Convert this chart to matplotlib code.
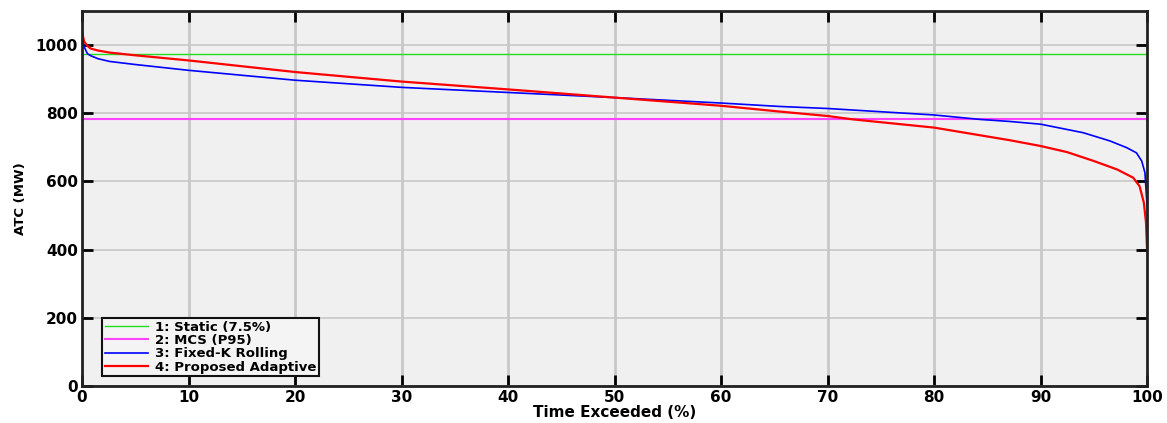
import matplotlib.pyplot as plt

# exceedance curves (percent of time exceeded vs available transfer capability)
static_atc = 973
mcs_p95 = 782

fixed_k_pct = [0, 0.2, 0.5, 0.8, 1.5, 2.6, 5, 10, 20, 30, 40, 50, 60, 65.5, 70,
               80, 84.3, 87.1, 90, 94, 96.5, 98.1, 99, 99.5, 99.8, 100]
fixed_k_atc = [1016, 995, 975, 969, 960, 952, 943, 926, 897, 876, 861, 846, 830, 820, 814,
               795, 782, 776, 768, 743, 719, 699, 684, 660, 626, 530]

adaptive_pct = [0, 0.2, 0.5, 0.8, 1.5, 2.6, 5, 10, 20, 30, 40, 50, 60, 65.5, 70,
                72.4, 80, 87.1, 90, 92.5, 95, 97.2, 98.7, 99.3, 99.7, 99.9, 100]
adaptive_atc = [1038, 1010, 998, 990, 984, 978, 970, 955, 921, 893, 870, 846, 822, 805, 792,
                782, 758, 721, 704, 686, 660, 635, 611, 586, 538, 480, 400]

labels = ['1: Static (7.5%)', '2: MCS (P95)', '3: Fixed-K Rolling', '4: Proposed Adaptive']
xticks = list(range(0, 101, 10))
yticks = list(range(0, 1001, 200))

plt.rcParams['font.family'] = 'DejaVu Sans'
plt.rcParams['font.weight'] = 'bold'

fig = plt.figure(figsize=(11.67, 4.23), dpi=100)
ax = fig.add_axes([0.0703, 0.0875, 0.9126, 0.8865])
ax.set_facecolor('#f0f0f0')

ax.axhline(static_atc, color='#22dd22', lw=1.0, label=labels[0])
ax.axhline(mcs_p95, color='#ff44ff', lw=1.5, label=labels[1])
ax.plot(fixed_k_pct, fixed_k_atc, color='#0000ff', lw=1.2, label=labels[2])
ax.plot(adaptive_pct, adaptive_atc, color='#ff0000', lw=1.6, label=labels[3])

ax.set_xlim(0, 100)
ax.set_ylim(0, 1100)
ax.set_xticks(xticks)
ax.set_yticks(yticks)
ax.xaxis.grid(True, color='#c8c8c8', lw=2.0)
ax.yaxis.grid(True, color='#c8c8c8', lw=1.2)
ax.set_axisbelow(True)

ax.tick_params(direction='in', length=8, width=2, top=True, right=True,
               labelsize=11, pad=3)
for lab in ax.get_xticklabels() + ax.get_yticklabels():
    lab.set_fontweight('bold')
for s in ax.spines.values():
    s.set_linewidth(2)
    s.set_color('#222222')

ax.set_xlabel('Time Exceeded (%)', fontsize=11, fontweight='bold', labelpad=0)
ax.set_ylabel('ATC (MW)', fontsize=9.5, fontweight='bold', labelpad=6)

leg = ax.legend(loc='lower left', bbox_to_anchor=(0.019, 0.026), fontsize=9.5,
                frameon=True, fancybox=False, edgecolor='#111111', facecolor='#f4f4f4',
                framealpha=1, handlelength=3.3, handletextpad=0.5, labelspacing=0.02,
                borderpad=0.2, borderaxespad=0)
leg.get_frame().set_linewidth(1.5)
for t in leg.get_texts():
    t.set_fontweight('bold')

fig.savefig('out.png', dpi=100)
